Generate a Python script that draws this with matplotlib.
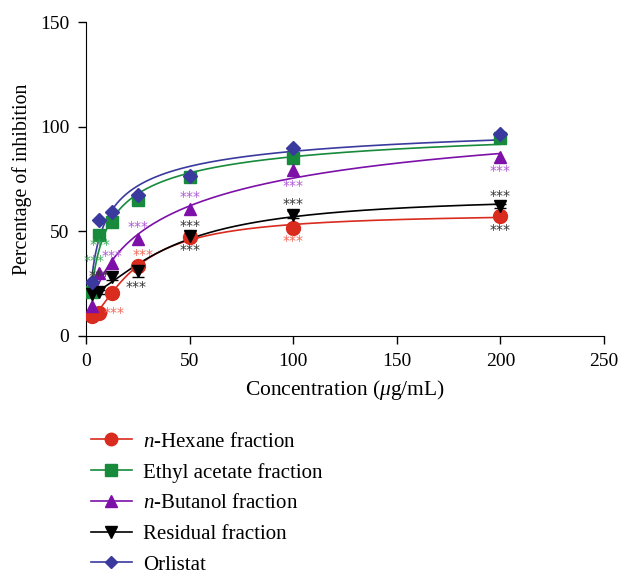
import numpy as np
import matplotlib
matplotlib.use("Agg")
import matplotlib.pyplot as plt
from matplotlib.lines import Line2D

plt.rcParams['font.family'] = ['Liberation Serif', 'DejaVu Serif']
plt.rcParams['mathtext.fontset'] = 'custom'
plt.rcParams['mathtext.rm'] = 'Liberation Serif'
plt.rcParams['mathtext.it'] = 'Liberation Serif:italic'

conc = [3.125, 6.25, 12.5, 25, 50, 100, 200]
hexane = [9.6, 11.1, 20.3, 33.4, 47.4, 51.5, 57.3]
ethyl = [20.9, 48.3, 54.3, 65.0, 75.8, 85.0, 94.5]
butanol = [14.5, 30.0, 34.7, 46.5, 60.7, 79.5, 85.4]
residual = [20.0, 21.0, 28.4, 31.0, 47.8, 58.0, 62.0]
orlistat = [26.0, 55.4, 59.4, 67.5, 76.5, 90.0, 96.5]
residual_err = [1.0, 1.0, 1.5, 3.0, 1.5, 1.5, 1.0]

labels = ['$n$-Hexane fraction', 'Ethyl acetate fraction', '$n$-Butanol fraction',
          'Residual fraction', 'Orlistat']
colors = ['#d92b1e', '#178a3c', '#7c10a8', '#000000', '#3a3a9e']
markers = ['o', 's', '^', 'v', 'D']
msizes = [10, 9, 9, 9, 7.5]
series = [hexane, ethyl, butanol, residual, orlistat]

# significance annotations: (x, y, color)
star_red = '#f06a5c'
star_green = '#3daa5c'
star_purple = '#b25bd6'
star_gray = '#333333'
stars = [
    (6.75, 43.5, star_green), (3.8, 36.0, star_green),
    (12.5, 38.0, star_purple), (25, 52.0, star_purple), (50, 66.5, star_purple),
    (100, 71.5, star_purple), (200, 79.0, star_purple),
    (27.5, 38.5, star_red), (13.5, 11.0, star_red), (100, 45.5, star_red),
    (6.5, 28.8, star_gray), (24.0, 23.5, star_gray), (50, 52.5, star_gray),
    (50, 41.0, star_gray), (100, 63.0, star_gray), (200, 67.0, star_gray),
    (200, 50.5, star_gray),
]


def fit_curve(x, y):
    x = np.asarray(x, float)
    y = np.asarray(y, float)
    best = None
    for n in np.linspace(0.5, 1.5, 21):
        for K in np.geomspace(1, 300, 400):
            g = x ** n / (K ** n + x ** n)
            A = np.column_stack([np.ones_like(x), g])
            coef, *_ = np.linalg.lstsq(A, y, rcond=None)
            r = np.sum((A @ coef - y) ** 2)
            if best is None or r < best[0]:
                best = (r, K, n, coef)
    _, K, n, (a, b) = best
    return lambda t: a + b * t ** n / (K ** n + t ** n)


fig = plt.figure(figsize=(6.23, 5.75), dpi=100)
ax = fig.add_axes([0.138, 0.4157, 0.8315, 0.546])

xs = np.linspace(conc[0], conc[-1], 400)
handles = []
for i, (ys, c, m, ms) in enumerate(zip(series, colors, markers, msizes)):
    f = fit_curve(conc, ys)
    ax.plot(xs, f(xs), color=c, lw=1.2, zorder=2)
    if i == 3:
        ax.errorbar(conc, ys, yerr=residual_err, fmt='none', ecolor=c, elinewidth=1, capsize=4, zorder=3)
    ax.plot(conc, ys, linestyle='none', marker=m, color=c, markersize=ms, zorder=4)
    handles.append(Line2D([0], [0], color=c, lw=1.2, marker=m, markersize=ms - 1))

for x, y, c in stars:
    ax.text(x, y, '***', color=c, fontsize=10, ha='center', va='center',
            family='DejaVu Sans', zorder=5)

ax.set_xlim(0, 250)
ax.set_ylim(0, 150)
ax.set_xticks([0, 50, 100, 150, 200, 250])
ax.set_yticks([0, 50, 100, 150])
ax.spines['top'].set_visible(False)
ax.spines['right'].set_visible(False)
ax.tick_params(direction='out', length=6, width=1, labelsize=14, pad=6)
ax.set_xlabel('Concentration ($\\mu$g/mL)', fontsize=15.5, labelpad=6)
ax.set_ylabel('Percentage of inhibition', fontsize=14.3, labelpad=6)

fig.legend(handles, labels, loc='upper left', bbox_to_anchor=(0.132, 0.263),
           frameon=False, fontsize=15, handlelength=2.0, labelspacing=0.53,
           handletextpad=0.5, borderaxespad=0)

fig.savefig('out.png', dpi=100)
